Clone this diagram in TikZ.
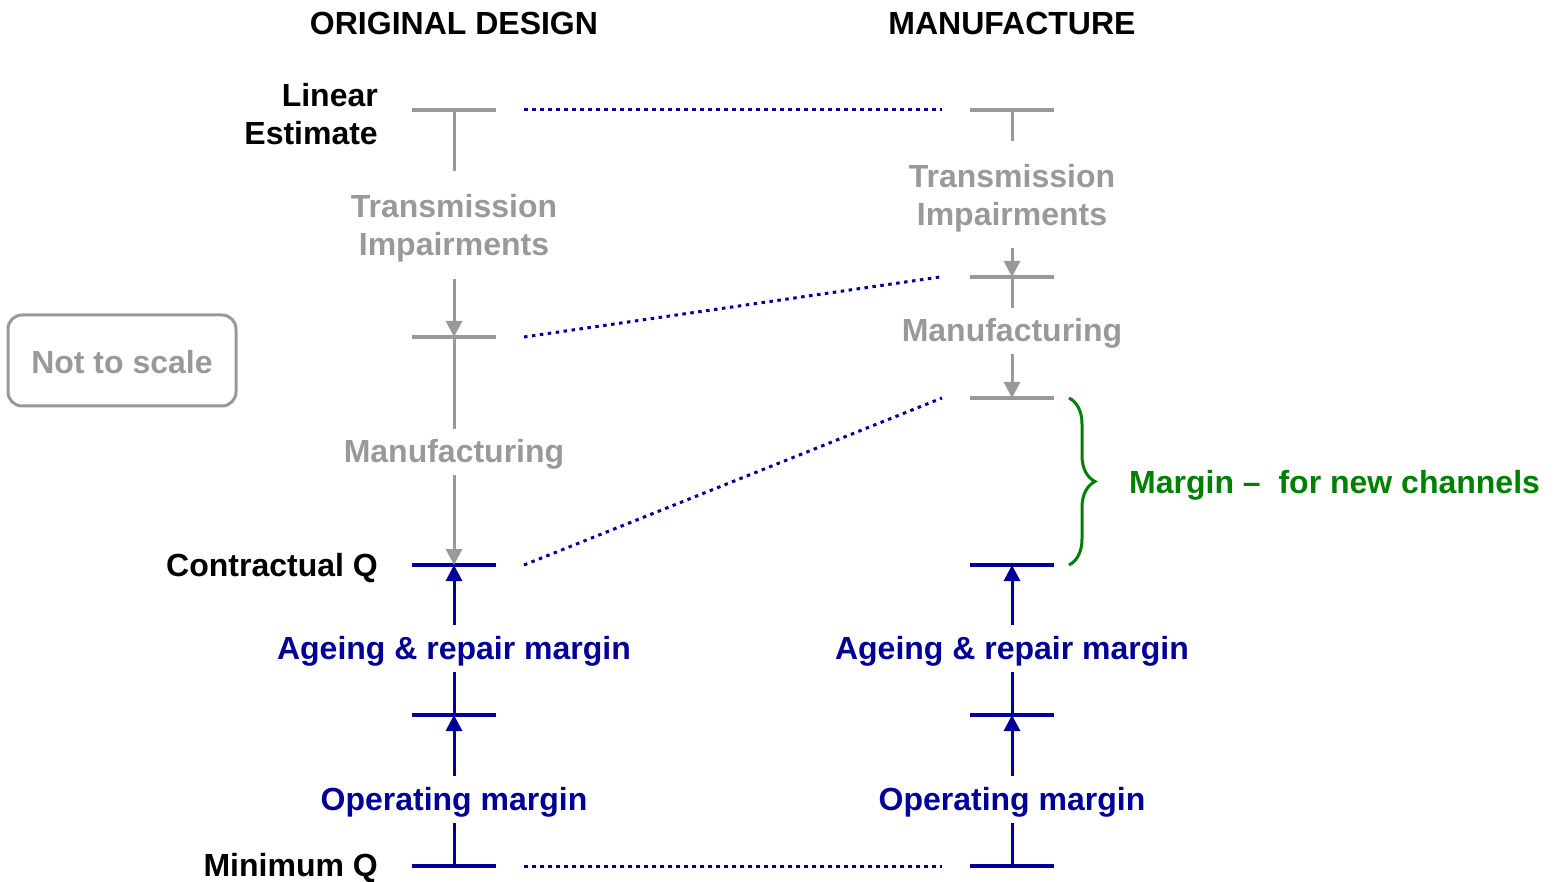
\documentclass[tikz,border=0pt]{standalone}
\usepackage{fontspec}
\setmainfont{Liberation Sans}
\usetikzlibrary{arrows.meta,decorations.pathreplacing}
\definecolor{gr}{HTML}{999999}
\definecolor{nv}{HTML}{000099}
\definecolor{gn}{HTML}{008000}
\begin{document}
\begin{tikzpicture}[x=1pt,y=-1pt,
  txt/.style={font=\fontsize{32}{38.5}\selectfont\bfseries, inner sep=0pt, align=center},
  tick/.style={line width=3.5pt},
  stem/.style={line width=3pt},
  arr/.style={line width=3pt, -{Triangle[width=16pt,length=16pt]}},
  dot/.style={nv, line width=3pt, dash pattern=on 3.5pt off 4.5pt}]
\useasboundingbox (0,0) rectangle (1556,882);
% titles
\node[txt] (t1) at (454,23) {ORIGINAL DESIGN};
\node[txt] (t2) at (1012,23) {MANUFACTURE};
% left labels
\node[txt, anchor=east, align=right] (le) at (378,114) {Linear\\Estimate};
\node[txt, anchor=east] (cq) at (378,568) {Contractual Q};
\node[txt, anchor=east] (mq) at (378,868) {Minimum Q};
% Not to scale
\node[draw=gr, line width=3pt, rounded corners=14pt, minimum width=228pt, minimum height=91pt, inner sep=0pt] (nts) at (122,360.5) {};
\node[txt, text=gr] (ntst) at ([yshift=-2pt]nts.center) {Not to scale};
% coordinates
\coordinate (L1) at (454,110);
\coordinate (L2) at (454,337);
\coordinate (L3) at (454,565);
\coordinate (L4) at (454,715);
\coordinate (L5) at (454,866);
\coordinate (R1) at (1012,110);
\coordinate (R2) at (1012,277);
\coordinate (R3) at (1012,398);
\coordinate (R4) at (1012,565);
\coordinate (R5) at (1012,715);
\coordinate (R6) at (1012,866);
% left column
\node[txt, text=gr] (lti) at (454,228) {Transmission\\Impairments};
\node[txt, text=gr] (lm) at (454,454) {Manufacturing};
\node[txt, text=nv] (la) at (454,651) {Ageing \& repair margin};
\node[txt, text=nv] (lo) at (454,802) {Operating margin};
\draw[gr, tick] ([xshift=-42pt]L1) -- ([xshift=42pt]L1);
\draw[gr, tick] ([xshift=-42pt]L2) -- ([xshift=42pt]L2);
\draw[nv, tick] ([xshift=-42pt]L3) -- ([xshift=42pt]L3);
\draw[nv, tick] ([xshift=-42pt]L4) -- ([xshift=42pt]L4);
\draw[nv, tick] ([xshift=-42pt]L5) -- ([xshift=42pt]L5);
\draw[gr, stem] (L1) -- (454,171);
\draw[gr, arr] (454,279) -- (L2);
\draw[gr, stem] (L2) -- (454,429);
\draw[gr, arr] (454,475) -- (L3);
\draw[nv, arr] (454,625) -- (L3);
\draw[nv, stem] (454,672) -- (L4);
\draw[nv, arr] (454,776) -- (L4);
\draw[nv, stem] (454,823) -- (L5);
% right column
\node[txt, text=gr] (rti) at (1012,198) {Transmission\\Impairments};
\node[txt, text=gr] (rm) at (1012,333) {Manufacturing};
\node[txt, text=nv] (ra) at (1012,651) {Ageing \& repair margin};
\node[txt, text=nv] (ro) at (1012,802) {Operating margin};
\draw[gr, tick] ([xshift=-42pt]R1) -- ([xshift=42pt]R1);
\draw[gr, tick] ([xshift=-42pt]R2) -- ([xshift=42pt]R2);
\draw[gr, tick] ([xshift=-42pt]R3) -- ([xshift=42pt]R3);
\draw[nv, tick] ([xshift=-42pt]R4) -- ([xshift=42pt]R4);
\draw[nv, tick] ([xshift=-42pt]R5) -- ([xshift=42pt]R5);
\draw[nv, tick] ([xshift=-42pt]R6) -- ([xshift=42pt]R6);
\draw[gr, stem] (R1) -- (1012,141);
\draw[gr, arr] (1012,248) -- (R2);
\draw[gr, stem] (R2) -- (1012,308);
\draw[gr, arr] (1012,354) -- (R3);
\draw[nv, arr] (1012,625) -- (R4);
\draw[nv, stem] (1012,672) -- (R5);
\draw[nv, arr] (1012,776) -- (R5);
\draw[nv, stem] (1012,823) -- (R6);
% dotted links
\draw[dot] ([xshift=70pt]L1) -- ([xshift=-70pt]R1);
\draw[dot] ([xshift=70pt]L2) -- ([xshift=-72pt]R2);
\draw[dot] ([xshift=70pt]L3) -- ([xshift=-70pt]R3);
\draw[dot] ([xshift=70pt]L5) -- ([xshift=-70pt]R6);
% brace
\draw[gn, line width=3pt, decorate, decoration={brace, amplitude=26pt, aspect=0.5}] (1069,398) -- (1069,565);
\node[txt, text=gn, anchor=west] (mg) at (1129,485) {Margin –\ \ for new channels};
\end{tikzpicture}
\end{document}
